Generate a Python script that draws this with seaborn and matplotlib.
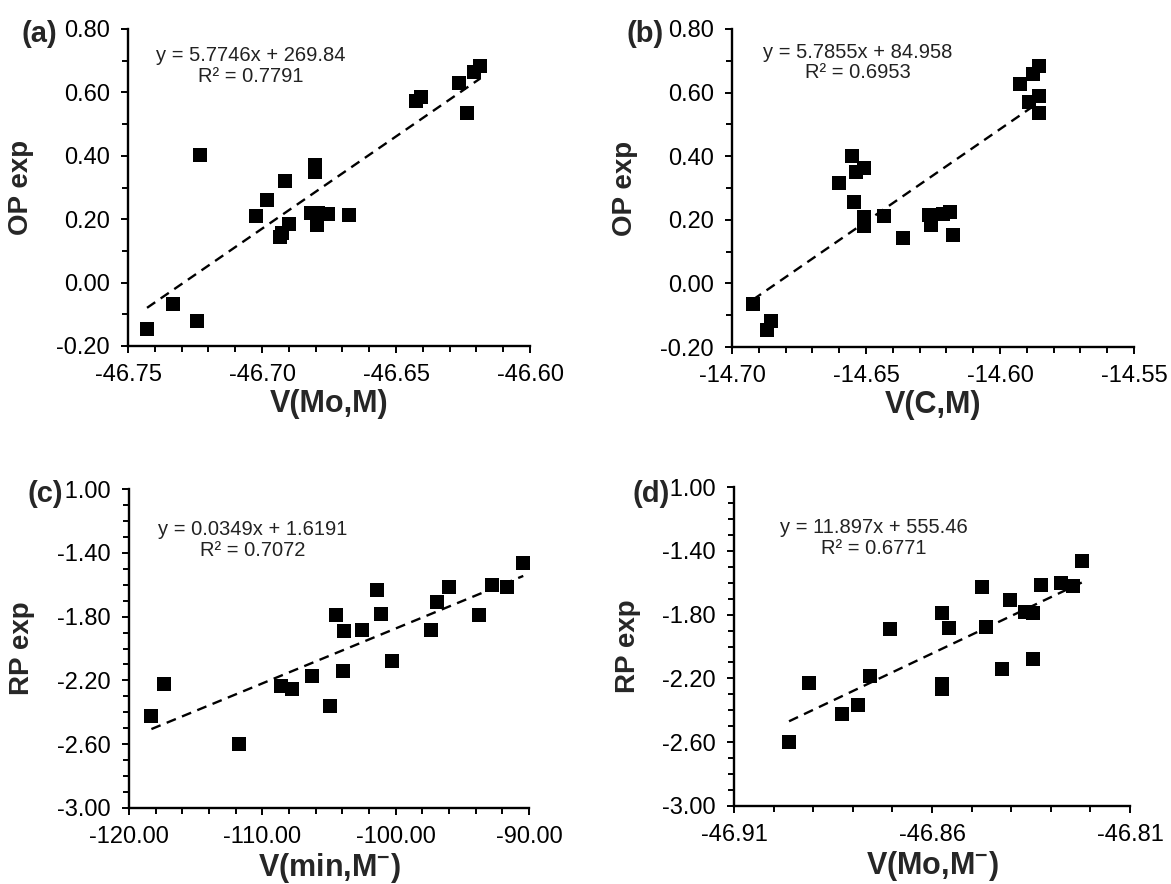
import matplotlib
matplotlib.use("Agg")
import numpy as np
import matplotlib.pyplot as plt
from matplotlib.ticker import FixedLocator, FormatStrFormatter
import seaborn as sns

# (a) OP exp vs V(Mo,M)
a_x = [-46.7429, -46.7332, -46.7241, -46.7233, -46.7021, -46.6981, -46.6913, -46.6934,
       -46.6925, -46.6900, -46.6803, -46.6803, -46.6816, -46.6791, -46.6754, -46.6793,
       -46.6675, -46.6426, -46.6405, -46.6265, -46.6235, -46.6209, -46.6185]
a_y = [-0.145, -0.069, -0.120, 0.403, 0.210, 0.259, 0.321, 0.143, 0.155, 0.184, 0.371,
       0.348, 0.219, 0.221, 0.216, 0.182, 0.213, 0.573, 0.587, 0.629, 0.534, 0.663, 0.684]

# (b) OP exp vs V(C,M)
b_x = [-14.6922, -14.6869, -14.6853, -14.6602, -14.6552, -14.6536, -14.6506, -14.6546,
       -14.6506, -14.6506, -14.6434, -14.6363, -14.6266, -14.6257, -14.6214, -14.6185,
       -14.6175, -14.5927, -14.5893, -14.5877, -14.5856, -14.5856, -14.5856]
b_y = [-0.066, -0.147, -0.118, 0.317, 0.401, 0.349, 0.364, 0.257, 0.210, 0.182, 0.212,
       0.144, 0.215, 0.184, 0.218, 0.224, 0.152, 0.627, 0.569, 0.657, 0.685, 0.589, 0.535]

# (c) RP exp vs V(min,M-)
c_x = [-118.32, -117.36, -111.73, -108.57, -107.76, -106.31, -104.95, -104.45, -103.87,
       -103.94, -102.49, -101.43, -101.11, -100.28, -97.34, -96.88, -96.03, -93.77,
       -92.81, -91.68, -90.43]
c_y = [-2.421, -2.223, -2.599, -2.233, -2.254, -2.175, -2.358, -1.788, -1.892, -2.139,
       -1.882, -1.631, -1.784, -2.080, -1.882, -1.711, -1.617, -1.788, -1.600, -1.617,
       -1.464]

# (d) RP exp vs V(Mo,M-)
d_x = [-46.8961, -46.8910, -46.8827, -46.8787, -46.8757, -46.8705, -46.8576, -46.8557,
       -46.8575, -46.8575, -46.8474, -46.8463, -46.8424, -46.8404, -46.8366, -46.8345,
       -46.8345, -46.8324, -46.8274, -46.8245, -46.8221]
d_y = [-2.601, -2.226, -2.426, -2.367, -2.184, -1.891, -1.793, -1.881, -2.232, -2.269,
       -1.626, -1.877, -2.138, -1.710, -1.783, -1.787, -2.079, -1.616, -1.601, -1.622,
       -1.466]

equations = ["y = 5.7746x + 269.84\nR\u00b2 = 0.7791",
             "y = 5.7855x + 84.958\nR\u00b2 = 0.6953",
             "y = 0.0349x + 1.6191\nR\u00b2 = 0.7072",
             "y = 11.897x + 555.46\nR\u00b2 = 0.6771"]
tags = ["(a)", "(b)", "(c)", "(d)"]
xlabels = ["V(Mo,M)", "V(C,M)", r"V(min,M$^{\mathbf{-}}$)", r"V(Mo,M$^{\mathbf{-}}$)"]
ylabels = ["OP exp", "OP exp", "RP exp", "RP exp"]

sns.set_style("ticks")
plt.rcParams["font.family"] = ["Liberation Sans", "DejaVu Sans"]
plt.rcParams["mathtext.fontset"] = "custom"
plt.rcParams["mathtext.rm"] = "Liberation Sans"
plt.rcParams["mathtext.bf"] = "Liberation Sans:bold"

fig = plt.figure(figsize=(11.71, 8.84), dpi=100)
W, H = 1171, 884

# plot areas in pixels: left, right, top, bottom
boxes = [(128, 530, 29, 346), (732, 1134, 29, 347),
         (129, 529, 489, 808), (734, 1130, 487, 806)]
# axis ranges and tick steps (major, minor)
settings = [
    dict(xlim=(-46.75, -46.60), xst=(0.05, 0.01), ylim=(-0.20, 0.80), yst=(0.2, 0.1)),
    dict(xlim=(-14.70, -14.55), xst=(0.05, 0.01), ylim=(-0.20, 0.80), yst=(0.2, 0.1)),
    dict(xlim=(-120.0, -90.0), xst=(10.0, 2.0), ylim=(-3.0, -1.0), yst=(0.4, 0.1)),
    dict(xlim=(-46.91, -46.81), xst=(0.05, 0.01), ylim=(-3.0, -1.0), yst=(0.4, 0.1)),
]
eq_pos = [(0.306, 0.883), (0.313, 0.895), (0.31, 0.840), (0.354, 0.840)]
tag_pos = [(22, 34), (626, 34), (28, 494), (632, 494)]
data = [(a_x, a_y), (b_x, b_y), (c_x, c_y), (d_x, d_y)]


def ticks(lim, step):
    return np.round(np.arange(lim[0], lim[1] + step / 2, step), 4)


for i, (xs, ys) in enumerate(data):
    l, r, t, b = boxes[i]
    ax = fig.add_axes([l / W, 1 - b / H, (r - l) / W, (b - t) / H])
    s = settings[i]
    sns.regplot(x=xs, y=ys, ax=ax, ci=None, marker="s", color="black",
                scatter_kws=dict(s=90, linewidths=0, alpha=1),
                line_kws=dict(lw=1.7, ls=(0, (4.2, 2.8)), color="black"))
    ax.set_xlim(*s["xlim"])
    ax.set_ylim(*s["ylim"])
    ax.xaxis.set_major_locator(FixedLocator(ticks(s["xlim"], s["xst"][0])))
    ax.xaxis.set_minor_locator(FixedLocator(ticks(s["xlim"], s["xst"][1])))
    ax.yaxis.set_major_locator(FixedLocator(ticks(s["ylim"], s["yst"][0])))
    ax.yaxis.set_minor_locator(FixedLocator(ticks(s["ylim"], s["yst"][1])))
    ax.xaxis.set_major_formatter(FormatStrFormatter("%.2f"))
    ax.yaxis.set_major_formatter(FormatStrFormatter("%.2f"))
    sns.despine(ax=ax)
    for sp in ["left", "bottom"]:
        ax.spines[sp].set_linewidth(1.7)
        ax.spines[sp].set_color("black")
    ax.tick_params(which="major", direction="out", length=5, width=1.4,
                   labelsize=17, pad=8, colors="black")
    ax.tick_params(which="minor", direction="out", length=4, width=1.4, colors="black")
    ax.set_xlabel(xlabels[i], fontsize=22, fontweight="bold", labelpad=2)
    ax.set_ylabel(ylabels[i], fontsize=20, fontweight="bold")
    ax.yaxis.set_label_coords(-0.235, 0.5)
    ax.text(eq_pos[i][0], eq_pos[i][1], equations[i], transform=ax.transAxes,
            ha="center", va="center", multialignment="center", fontsize=14.5,
            linespacing=1.1, color="#222222")
    ax.patch.set_alpha(0)
    # in (c) and (d) the tag sits over the minus sign of the top tick label
    box = dict(facecolor="white", edgecolor="none", pad=0) if i >= 2 else None
    fig.text(tag_pos[i][0] / W, 1 - tag_pos[i][1] / H, tags[i], fontsize=21,
             fontweight="bold", ha="left", va="center", bbox=box, zorder=10)

fig.savefig("out.png", dpi=100, facecolor="white")
